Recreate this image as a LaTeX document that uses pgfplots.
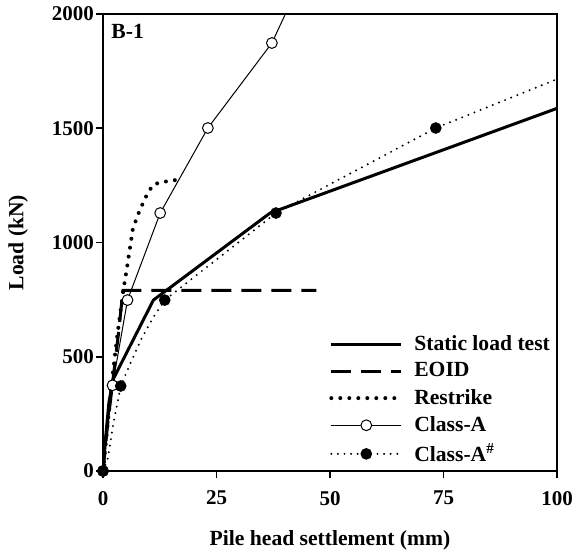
\documentclass[border=0pt]{standalone}
\usepackage{fontspec}
\setmainfont{Liberation Serif}
\usepackage{pgfplots}
\pgfplotsset{compat=1.18}
\begin{document}
\begin{tikzpicture}
\begin{axis}[
  scale only axis,
  width=227pt, height=228.5pt,
  xmin=0, xmax=100, ymin=0, ymax=2000,
  xtick={0,25,50,75,100}, ytick={0,500,1000,1500,2000},
  tick pos=left, tick align=outside,
  major tick length=3.5pt,
  axis line style={line width=1pt},
  every tick/.style={line width=0.8pt, black},
  /pgf/number format/assume math mode=true,
  ticklabel style={font=\fontsize{10.5}{12}\selectfont\bfseries},
  xticklabel style={yshift=-3pt},
  yticklabel style={xshift=2.5pt},
  scaled ticks=false,
  /pgf/number format/set thousands separator={},
  xlabel={Pile head settlement (mm)},
  ylabel={Load (kN)},
  every axis x label/.style={at={(axis description cs:0.5,-0.151)},anchor=center,font=\fontsize{10.8}{12}\selectfont\bfseries},
  every axis y label/.style={at={(axis description cs:-0.187,0.5)},rotate=90,anchor=center,font=\fontsize{10.8}{12}\selectfont\bfseries},
  legend style={draw=none, fill=none, font=\fontsize{10.8}{12}\selectfont\bfseries,
    at={(axis description cs:0.994,0.005)}, anchor=south east,
    row sep=0.6pt, inner sep=0pt},
  legend cell align=left,
  legend image code/.code={\draw[mark repeat=2,mark phase=2,#1] plot coordinates {(0pt,0pt) (17.5pt,0pt) (35pt,0pt)};\path[draw=none,fill=none] (0pt,0pt) -- (39.5pt,0pt);},
]
% Static load test
\addplot[black, line width=1.5pt, line join=round] coordinates {
 (0,0) (0.6,150) (1.3,300) (2.2,400) (11.1,748) (36.8,1129) (100,1587)};
\addlegendentry{Static load test}
% EOID
\addplot[black, line width=1.5pt, dash pattern=on 10pt off 5pt] coordinates {
 (0,0) (1,200) (2.2,400) (3.4,600) (4.4,790) (47,790)};
\addlegendentry{EOID}
% Restrike
\addplot[black, line width=2pt, dash pattern=on 0pt off 4.5pt, line cap=round] coordinates {
 (0,0) (1,200) (2,400) (3.2,600) (4.4,780) (5.4,905) (6.6,1062) (8.1,1142) (9.9,1219) (11.2,1255) (13.2,1265) (17.2,1277)};
\addlegendentry{Restrike}
% Class-A
\addplot[black, line width=0.5pt, mark=*, mark size=2.7pt, mark options={fill=white, solid, line width=0.5pt}] coordinates {
 (0,0) (2.1,375) (5.4,748) (12.6,1129) (23.1,1501) (37.2,1873)};
\addlegendentry{Class-A}
\addplot[black, line width=0.5pt, forget plot] coordinates {(37.2,1873) (45,2206)};
% Class-A# (line)
\addplot[black, line width=1.1pt, dash pattern=on 0pt off 3.3pt, line cap=round, forget plot] coordinates {
 (0,0) (1,50) (1.6,120) (2.3,210) (3.2,300) (3.9,372) (6,470) (8.5,580) (11,670) (13.6,748) (38.1,1129) (73.3,1501) (100,1715)};
% Class-A# (marks)
\addplot[black, only marks, mark=*, mark size=2.7pt, mark options={fill=black, solid},
  legend image code/.code={
    \draw[black, line width=1.1pt, dash pattern=on 0pt off 3.3pt, line cap=round] (0pt,0pt) -- (35pt,0pt);
    \draw[black, fill=black] (17.5pt,0pt) circle[radius=2.7pt];
    \path[draw=none,fill=none] (0pt,0pt) -- (39.5pt,0pt);}] coordinates {
 (0,0) (3.9,372) (13.6,748) (38.1,1129) (73.3,1501)};
\addlegendentry{Class-A\textsuperscript{\#}}
\node[anchor=north west, inner sep=0pt, font=\fontsize{10.8}{12}\selectfont\bfseries] at (rel axis cs:0,1) [xshift=4pt, yshift=-5pt] {B-1};
\end{axis}
\pgfresetboundingbox
\path (current axis.south west) ++(-51.5pt,-42pt) rectangle ++(288pt,277.5pt);
\end{tikzpicture}
\end{document}
